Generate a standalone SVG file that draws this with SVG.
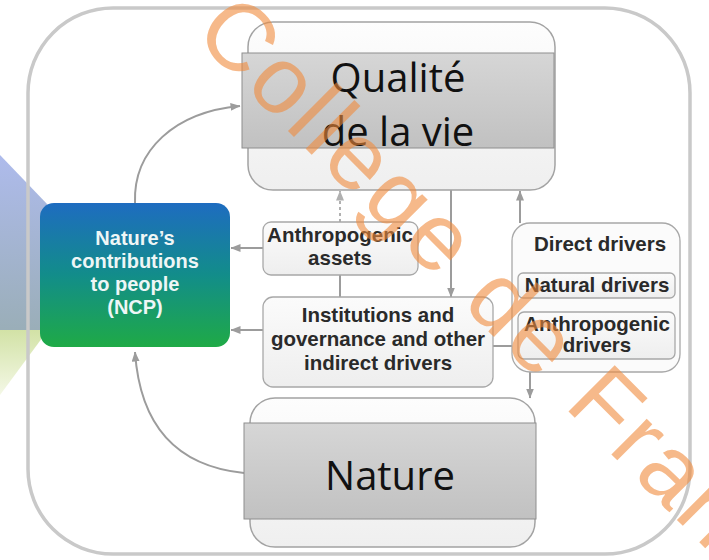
<svg xmlns="http://www.w3.org/2000/svg" width="709" height="560" viewBox="0 0 709 560">
<style>
.frame{fill:none;stroke:#c9c9c9;stroke-width:3.5}
.outer{stroke:#a3a3a3;stroke-width:1.5;fill:url(#gOuter)}
.inner{stroke:#8e8e8e;stroke-width:1;fill:url(#gInner)}
.big{font-family:"Open Sans","Liberation Sans",sans-serif;font-size:40px;fill:#111;text-anchor:middle}
.lbox{fill:url(#gLbox);stroke:#a8a8a8;stroke-width:1.3}
.lbl{font-family:"Liberation Sans",Arial,sans-serif;font-weight:bold;font-size:20.5px;fill:#2a2a2a;text-anchor:middle}
.ncp{font-family:"Liberation Sans",Arial,sans-serif;font-weight:bold;font-size:20px;fill:#eef6f6;text-anchor:middle}
.con{fill:none;stroke:#9c9c9c;stroke-width:2}
.dot{fill:none;stroke:#b0b0b0;stroke-width:2;stroke-dasharray:3 3}
.wm{font-family:"Liberation Sans",Arial,sans-serif;font-size:95px;fill:#F08A3C;fill-opacity:0.6;letter-spacing:4px}
</style>
<defs>
<linearGradient id="gOuter" x1="0" y1="0" x2="0" y2="1"><stop offset="0" stop-color="#fdfdfd"/><stop offset="1" stop-color="#efefef"/></linearGradient>
<linearGradient id="gInner" x1="0" y1="0" x2="0" y2="1"><stop offset="0" stop-color="#d6d6d6"/><stop offset="1" stop-color="#c1c1c1"/></linearGradient>
<linearGradient id="gLbox" x1="0" y1="0" x2="0" y2="1"><stop offset="0" stop-color="#fbfbfb"/><stop offset="1" stop-color="#eeeeee"/></linearGradient>
<linearGradient id="gNcp" x1="0" y1="0" x2="0" y2="1"><stop offset="0" stop-color="#1e6cc0"/><stop offset="0.5" stop-color="#128d8a"/><stop offset="1" stop-color="#1faa46"/></linearGradient>
<linearGradient id="gBlue" x1="0" y1="0" x2="0" y2="1"><stop offset="0" stop-color="#aebbec"/><stop offset="1" stop-color="#9aaeb8"/></linearGradient>
<linearGradient id="gGreen" x1="0" y1="0" x2="0" y2="1"><stop offset="0" stop-color="#d2e2a6"/><stop offset="1" stop-color="#f4f8e6"/></linearGradient>
<marker id="ah" viewBox="0 0 10 8" refX="9.5" refY="4" markerWidth="10" markerHeight="8" markerUnits="userSpaceOnUse" orient="auto"><path d="M0,0 L10,4 L0,8 z" fill="#9c9c9c"/></marker>
<marker id="ahl" viewBox="0 0 10 8" refX="9.5" refY="4" markerWidth="10" markerHeight="8" markerUnits="userSpaceOnUse" orient="auto"><path d="M0,0 L10,4 L0,8 z" fill="#b0b0b0"/></marker>
</defs>
<rect width="709" height="560" fill="#ffffff"/>
<g id="background">
<polygon points="0,155 48,205 48,330 0,330" fill="url(#gBlue)"/>
<polygon points="0,330 48,330 0,395" fill="url(#gGreen)"/>
<rect x="28" y="8" width="662" height="546" rx="85" ry="85" class="frame"/>
</g>
<g id="connectors">
<path class="con" d="M135,203 C133,150 175,112 240,106" marker-end="url(#ah)"/>
<path class="con" d="M244,473 C175,466 140,425 135,352" marker-end="url(#ah)"/>
<path class="con" d="M263,248 H231" marker-end="url(#ah)"/>
<path class="con" d="M263,330 H231" marker-end="url(#ah)"/>
<path class="dot" d="M340,222 V191" marker-end="url(#ahl)"/>
<path class="con" d="M340,275 V297"/>
<path class="con" d="M451,190 V297" marker-end="url(#ah)"/>
<path class="con" d="M520,223 V191" marker-end="url(#ah)"/>
<path class="con" d="M493,346 H530 V398" marker-end="url(#ah)"/>
</g>
<g id="qualite">
<rect x="248" y="22" width="307" height="168" rx="25" class="outer"/>
<rect x="242" y="53" width="312" height="95" class="inner"/>
<text class="big" x="398" y="92">Qualité</text>
<text class="big" x="398" y="146">de la vie</text>
</g>
<g id="nature">
<rect x="250" y="398" width="285" height="149" rx="25" class="outer"/>
<rect x="244" y="423" width="292" height="96" class="inner"/>
<text class="big" x="390" y="490">Nature</text>
</g>
<g id="ncp">
<rect x="40" y="203" width="190" height="144" rx="14" fill="url(#gNcp)"/>
<text class="ncp" x="135" y="245">Nature’s</text>
<text class="ncp" x="135" y="268">contributions</text>
<text class="ncp" x="135" y="291">to people</text>
<text class="ncp" x="135" y="314">(NCP)</text>
</g>
<g id="anthropogenic-assets">
<rect x="263" y="222" width="155" height="53" rx="8" class="lbox"/>
<text class="lbl" x="340" y="242">Anthropogenic</text>
<text class="lbl" x="340" y="265">assets</text>
</g>
<g id="institutions">
<rect x="263" y="297" width="230" height="90" rx="10" class="lbox"/>
<text class="lbl" x="378" y="322">Institutions and</text>
<text class="lbl" x="378" y="346">governance and other</text>
<text class="lbl" x="378" y="370">indirect drivers</text>
</g>
<g id="direct-drivers">
<rect x="512" y="223" width="168" height="149" rx="18" fill="#fbfbfb" stroke="#a8a8a8" stroke-width="1.3"/>
<text class="lbl" x="600" y="251">Direct drivers</text>
</g>
<g id="natural-drivers">
<rect x="518" y="273" width="157" height="25" rx="5" class="lbox"/>
<text class="lbl" x="597" y="292">Natural drivers</text>
</g>
<g id="anthropogenic-drivers">
<rect x="518" y="312" width="157" height="47" rx="6" class="lbox"/>
<text class="lbl" x="597" y="331">Anthropogenic</text>
<text class="lbl" x="597" y="352">drivers</text>
</g>
<g id="watermark">
<text class="wm" transform="translate(192,35) rotate(45)">College de France</text>
</g>
</svg>
